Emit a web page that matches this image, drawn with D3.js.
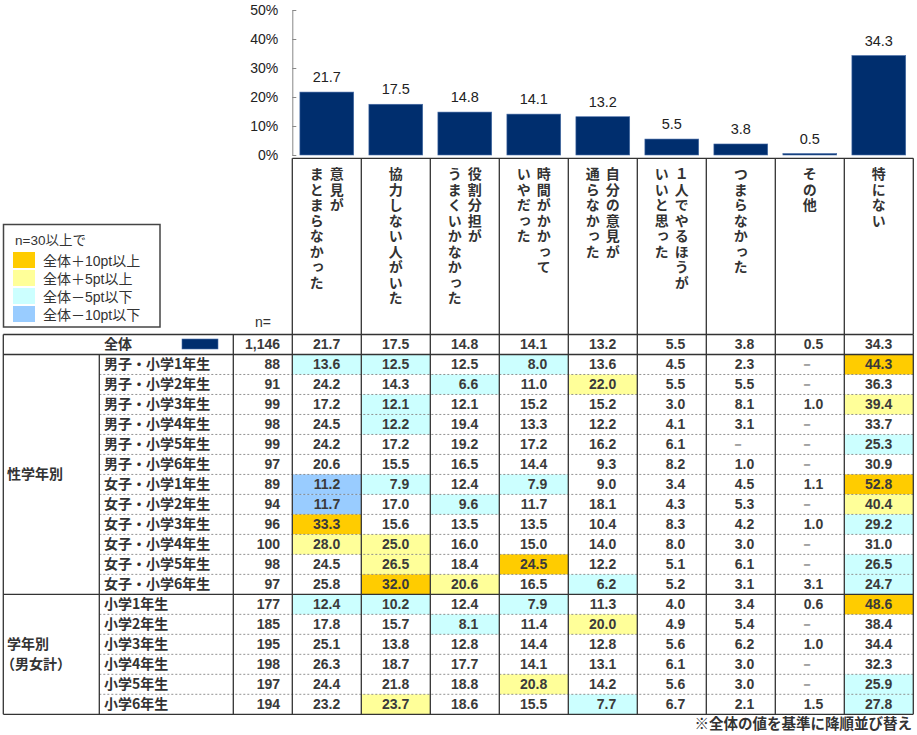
<!DOCTYPE html>
<html><head><meta charset="utf-8">
<script src="https://cdn.jsdelivr.net/npm/d3@7"></script>
<style>
body{margin:0;background:#fff;}
svg{display:block;}
.jp{font-family:"Noto Sans CJK JP","Noto Sans",sans-serif;}
.lg{font-family:"Liberation Sans","Noto Sans CJK JP",sans-serif;}
.num{font-family:"Liberation Sans",Arial,sans-serif;}
</style></head>
<body>
<svg id="chart" width="917" height="735"></svg>
<script>
// ---- data ----
const categories = ["意見が\nまとまらなかった","協力しない人がいた","役割分担が\nうまくいかなかった","時間がかかって\nいやだった","自分の意見が\n通らなかった","１人でやるほうが\nいいと思った","つまらなかった","その他","特にない"];
const overall = [21.7,17.5,14.8,14.1,13.2,5.5,3.8,0.5,34.3];
const overallLabel = "全体";
const overallN = 1146;
const yTicks = [0,10,20,30,40,50];
const rowLabels = ["男子・小学1年生","男子・小学2年生","男子・小学3年生","男子・小学4年生","男子・小学5年生","男子・小学6年生",
  "女子・小学1年生","女子・小学2年生","女子・小学3年生","女子・小学4年生","女子・小学5年生","女子・小学6年生",
  "小学1年生","小学2年生","小学3年生","小学4年生","小学5年生","小学6年生"];
const rowN = [88,91,99,98,99,97,89,94,96,100,98,97,177,185,195,198,197,194];
const rowValues = [
  [13.6,12.5,12.5,8.0,13.6,4.5,2.3,null,44.3],
  [24.2,14.3,6.6,11.0,22.0,5.5,5.5,null,36.3],
  [17.2,12.1,12.1,15.2,15.2,3.0,8.1,1.0,39.4],
  [24.5,12.2,19.4,13.3,12.2,4.1,3.1,null,33.7],
  [24.2,17.2,19.2,17.2,16.2,6.1,null,null,25.3],
  [20.6,15.5,16.5,14.4,9.3,8.2,1.0,null,30.9],
  [11.2,7.9,12.4,7.9,9.0,3.4,4.5,1.1,52.8],
  [11.7,17.0,9.6,11.7,18.1,4.3,5.3,null,40.4],
  [33.3,15.6,13.5,13.5,10.4,8.3,4.2,1.0,29.2],
  [28.0,25.0,16.0,15.0,14.0,8.0,3.0,null,31.0],
  [24.5,26.5,18.4,24.5,12.2,5.1,6.1,null,26.5],
  [25.8,32.0,20.6,16.5,6.2,5.2,3.1,3.1,24.7],
  [12.4,10.2,12.4,7.9,11.3,4.0,3.4,0.6,48.6],
  [17.8,15.7,8.1,11.4,20.0,4.9,5.4,null,38.4],
  [25.1,13.8,12.8,14.4,12.8,5.6,6.2,1.0,34.4],
  [26.3,18.7,17.7,14.1,13.1,6.1,3.0,null,32.3],
  [24.4,21.8,18.8,20.8,14.2,5.6,3.0,null,25.9],
  [23.2,23.7,18.6,15.5,7.7,6.7,2.1,1.5,27.8]
];
const groups = [{label:"性学年別", from:0, to:11},{label:"学年別\n（男女計）", from:12, to:17}];
const legendTitle = "n=30以上で";
const legendLabels = ["全体＋10pt以上","全体＋5pt以上","全体－5pt以下","全体－10pt以下"];
const nLabel = "n=";
const footnote = "※全体の値を基準に降順並び替え";

// ---- styles ----
const BAR = "#002e6e";
const C_P10="#ffcc00", C_P5="#ffff99", C_M5="#ccffff", C_M10="#99ccff";
const legendColors=[C_P10,C_P5,C_M5,C_M10];
const LINE="#333";
const TXT="#333";
function cellColor(v, base){
  if(v==null) return null;
  const d=Math.round((v-base)*10)/10;
  if(d>=10) return C_P10; if(d>=5) return C_P5;
  if(d<=-10) return C_M10; if(d<=-5) return C_M5;
  return null;
}

const svg = d3.select("#chart");
const x0=292.3, x1=913.3;
const x = d3.scaleBand().domain(categories).range([x0,x1]).paddingInner(0.22).paddingOuter(0.11);
const col = d3.scaleBand().domain(categories).range([x0,x1]).padding(0);
const y = d3.scaleLinear().domain([0,50]).range([155,10]);

// axis
const ax = svg.append("g").attr("transform",`translate(${x0},0)`)
  .call(d3.axisLeft(y).tickValues(yTicks).tickFormat(d=>d+"%").tickSize(-4).tickSizeOuter(0).tickPadding(14));
ax.select(".domain").attr("stroke","#888");
ax.selectAll(".tick line").attr("stroke","#888");
ax.selectAll("text").attr("class","num").attr("font-size",14).attr("fill","#222");

// bars
svg.append("g").selectAll("rect").data(categories).join("rect")
  .attr("x",d=>x(d)).attr("width",x.bandwidth())
  .attr("y",(d,i)=>y(overall[i])).attr("height",(d,i)=>y(0)-y(overall[i]))
  .attr("fill",BAR).attr("stroke","#4a6ea8").attr("stroke-width",0.6);
svg.append("g").selectAll("text").data(categories).join("text")
  .attr("class","num").attr("font-size",14.5).attr("fill","#222").attr("text-anchor","middle")
  .attr("x",d=>x(d)+x.bandwidth()/2).attr("y",(d,i)=>y(overall[i])-10)
  .text((d,i)=>overall[i].toFixed(1));

// header box
const hTop=158.3, tTop=334.5, tBot=714.3, tLeft=3.3;
const hdr = svg.append("g");
hdr.append("line").attr("x1",x0).attr("x2",x1).attr("y1",hTop).attr("y2",hTop).attr("stroke",LINE).attr("stroke-width",1.3);
hdr.selectAll("line.v").data(d3.range(categories.length+1)).join("line").attr("class","v")
  .attr("x1",i=>x0+i*col.step()).attr("x2",i=>x0+i*col.step()).attr("y1",hTop).attr("y2",tTop)
  .attr("stroke",LINE).attr("stroke-width",1.3);
categories.forEach((c,ci)=>{
  const lines=c.split("\n");
  const cx=col(c)+col.bandwidth()/2;
  lines.forEach((ln,li)=>{
    hdr.append("text").attr("class","jp")
      .attr("x",cx+(lines.length-1)/2*20-li*20).attr("y",167)
      .style("writing-mode","vertical-rl")
      .attr("font-size",14).attr("font-weight","bold").attr("fill",TXT)
      .attr("letter-spacing","1.5px")
      .text(ln);
  });
});
svg.append("text").attr("class","num").attr("x",255).attr("y",327).attr("font-size",14).attr("fill",TXT).text(nLabel);

// legend
const lg=svg.append("g");
lg.append("rect").attr("x",3.5).attr("y",224.5).attr("width",156.5).attr("height",102.5).attr("fill","#fff").attr("stroke","#444").attr("stroke-width",1.5);
lg.append("text").attr("class","lg").attr("x",15).attr("y",245).attr("font-size",13.5).attr("fill",TXT).text(legendTitle);
legendLabels.forEach((l,i)=>{
  lg.append("rect").attr("x",13).attr("y",252+i*18).attr("width",22).attr("height",16).attr("fill",legendColors[i]);
  lg.append("text").attr("class","lg").attr("x",43).attr("y",265.5+i*18).attr("font-size",14).attr("fill",TXT).text(l);
});

// table
const nRows = rowLabels.length+1;
const ry = d3.scaleBand().domain(d3.range(nRows)).range([tTop,tBot]);
const tb=svg.append("g");
const labX=99.3, nX=233.3;
rowValues.forEach((vals,ri)=>{
  vals.forEach((v,ci)=>{
    const f=cellColor(v,overall[ci]);
    if(f) tb.append("rect").attr("x",col(categories[ci])).attr("y",ry(ri+1)).attr("width",col.bandwidth()).attr("height",ry.step()).attr("fill",f);
  });
});
rowValues.forEach((vals,ri)=>{
  if(ri===0||ri===12) return;
  tb.append("line").attr("x1",labX).attr("x2",x1).attr("y1",ry(ri+1)).attr("y2",ry(ri+1))
    .attr("stroke","#777").attr("stroke-width",0.8).attr("stroke-dasharray","2,2");
});
const hl=[tTop, ry(1), ry(13), tBot];
hl.forEach(yy=>tb.append("line").attr("x1",tLeft).attr("x2",x1).attr("y1",yy).attr("y2",yy).attr("stroke",LINE).attr("stroke-width",1.3));
const vlines=[[tLeft,tTop,tBot],[labX,ry(1),tBot],[nX,tTop,tBot]];
d3.range(categories.length+1).forEach(i=>vlines.push([x0+i*col.step(),tTop,tBot]));
vlines.forEach(([xx,a,b])=>tb.append("line").attr("x1",xx).attr("x2",xx).attr("y1",a).attr("y2",b).attr("stroke",LINE).attr("stroke-width",1.3));

function rowText(ri){ return ry(ri)+ry.step()/2+5; }
function numText(xx,ri,txt,anchor){
  return tb.append("text").attr("class","num").attr("x",xx).attr("y",rowText(ri)).attr("text-anchor",anchor||"end")
    .attr("font-size",14).attr("font-weight","bold").attr("fill","#3a3a3a").text(txt);
}
tb.append("text").attr("class","jp").attr("x",104).attr("y",rowText(0)).attr("font-size",14).attr("font-weight","bold").attr("fill",TXT).text(overallLabel);
tb.append("rect").attr("x",182).attr("y",ry(0)+4.5).attr("width",36).attr("height",10).attr("fill",BAR).attr("stroke","#4a6ea8").attr("stroke-width",0.6);
numText(280,0,d3.format(",")(overallN));
overall.forEach((v,ci)=>numText(col(categories[ci])+48,0,v.toFixed(1)));
rowLabels.forEach((l,ri)=>{
  tb.append("text").attr("class","jp").attr("x",104).attr("y",rowText(ri+1)).attr("font-size",14).attr("font-weight","bold").attr("fill",TXT).text(l);
  numText(280,ri+1,rowN[ri]);
  rowValues[ri].forEach((v,ci)=>{
    if(v==null) numText(col(categories[ci])+32,ri+1,"－","middle").attr("font-weight","normal");
    else numText(col(categories[ci])+48,ri+1,v.toFixed(1));
  });
});
groups.forEach(g=>{
  const lines=g.label.split("\n");
  const mid=(ry(g.from+1)+ry(g.to+1)+ry.step())/2;
  lines.forEach((ln,li)=>{
    tb.append("text").attr("class","jp").attr("x",ln.startsWith("（")?1:7).attr("y",mid+5+(li-(lines.length-1)/2)*20)
      .attr("font-size",14).attr("font-weight","bold").attr("fill",TXT).text(ln);
  });
});
svg.append("text").attr("class","jp").attr("x",912).attr("y",729).attr("text-anchor","end").attr("font-size",14.5).attr("font-weight","bold").attr("fill",TXT).text(footnote);
</script>
</body></html>
